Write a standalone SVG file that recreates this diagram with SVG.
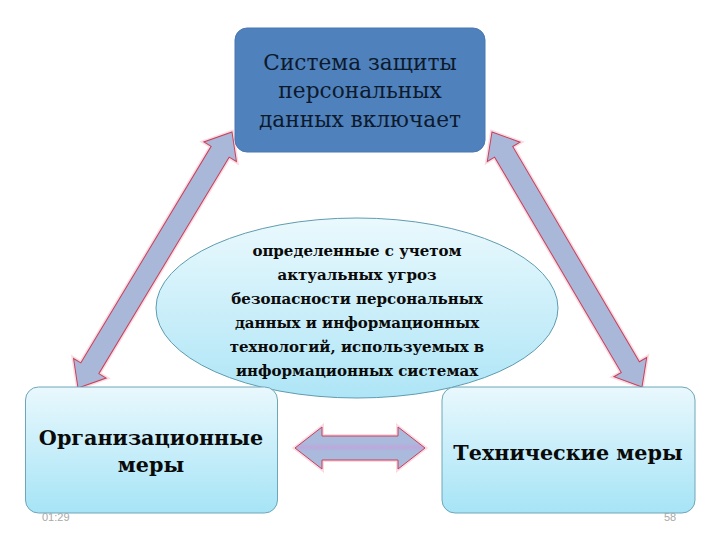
<svg xmlns="http://www.w3.org/2000/svg" width="720" height="540" viewBox="0 0 720 540">
<defs>
<linearGradient id="gBox" x1="0" y1="0" x2="0" y2="1">
<stop offset="0" stop-color="#e9f8fd"/>
<stop offset="1" stop-color="#a6e4f6"/>
</linearGradient>
<linearGradient id="gEll" x1="0" y1="0" x2="0" y2="1">
<stop offset="0" stop-color="#eaf9fd"/>
<stop offset="1" stop-color="#aee5f6"/>
</linearGradient>
<linearGradient id="gArr" x1="0" y1="0" x2="0" y2="1">
<stop offset="0" stop-color="#a9badc"/>
<stop offset="0.38" stop-color="#a9badc"/>
<stop offset="0.48" stop-color="#bca8dc"/>
<stop offset="0.58" stop-color="#a9badc"/>
<stop offset="1" stop-color="#a9badc"/>
</linearGradient>
</defs>
<style>
.arr{fill:#a9b8d9;stroke:#c8405a;stroke-width:1;stroke-linejoin:miter}
.glow{fill:none;stroke:#f4b8c8;stroke-width:4;stroke-opacity:0.5}
.box{fill:url(#gBox);stroke:#6ea6b8;stroke-width:1}
.t1{font-family:"DejaVu Serif","Liberation Serif",serif;font-size:21.7px;fill:#0c1a2c;text-anchor:middle}
.t2{font-family:"DejaVu Serif","Liberation Serif",serif;font-size:15px;font-weight:bold;fill:#0a0a0a;text-anchor:middle}
.t3{font-family:"DejaVu Serif","Liberation Serif",serif;font-size:20.7px;font-weight:bold;fill:#0a0a0a;text-anchor:middle}
.small{font-family:"Liberation Sans",Arial,sans-serif;font-size:11px;fill:#a8a8a8}
</style>
<rect width="720" height="540" fill="#ffffff"/>
<g id="connectors">
<g transform="translate(232,132) rotate(121.03)">
<polygon class="glow" points="0,0 23,-19 23,-10.5 275.75,-10.5 275.75,-19 298.75,0 275.75,19 275.75,10.5 23,10.5 23,19"/>
<polygon class="arr" points="0,0 23,-19 23,-10.5 275.75,-10.5 275.75,-19 298.75,0 275.75,19 275.75,10.5 23,10.5 23,19"/>
</g>
<g transform="translate(492,132) rotate(59.53)">
<polygon class="glow" points="0,0 23,-19 23,-10.5 272.8,-10.5 272.8,-19 295.8,0 272.8,19 272.8,10.5 23,10.5 23,19"/>
<polygon class="arr" points="0,0 23,-19 23,-10.5 272.8,-10.5 272.8,-19 295.8,0 272.8,19 272.8,10.5 23,10.5 23,19"/>
</g>
<g transform="translate(295,448)">
<polygon class="glow" points="0,0 27,-21 27,-12 103,-12 103,-21 130,0 103,21 103,12 27,12 27,21"/>
<polygon class="arr" style="fill:url(#gArr)" points="0,0 27,-21 27,-12 103,-12 103,-21 130,0 103,21 103,12 27,12 27,21"/>
</g>
</g>
<g id="top">
<rect x="235" y="28" width="250" height="124" rx="12" fill="#4f81bd" stroke="#4a78b0" stroke-width="1"/>
<text class="t1" x="360" y="70">Система защиты</text>
<text class="t1" x="360" y="98">персональных</text>
<text class="t1" x="360" y="127">данных включает</text>
</g>
<g id="ellipse">
<ellipse cx="357" cy="308" rx="201" ry="90" fill="url(#gEll)" stroke="#5f9cb0" stroke-width="1"/>
<text class="t2" x="357" y="256">определенные с учетом</text>
<text class="t2" x="357" y="280">актуальных угроз</text>
<text class="t2" x="357" y="304">безопасности персональных</text>
<text class="t2" x="357" y="328">данных и информационных</text>
<text class="t2" x="357" y="352">технологий, используемых в</text>
<text class="t2" x="357" y="376">информационных системах</text>
</g>
<g id="org">
<rect class="box" x="25.5" y="387" width="252" height="126" rx="13"/>
<text class="t3" x="151" y="445">Организационные</text>
<text class="t3" x="151" y="472">меры</text>
</g>
<g id="tech">
<rect class="box" x="442" y="387" width="253" height="126" rx="13"/>
<text class="t3" x="568" y="460">Технические меры</text>
</g>
<text class="small" x="42" y="521">01:29</text>
<text class="small" x="664" y="521">58</text>
</svg>
